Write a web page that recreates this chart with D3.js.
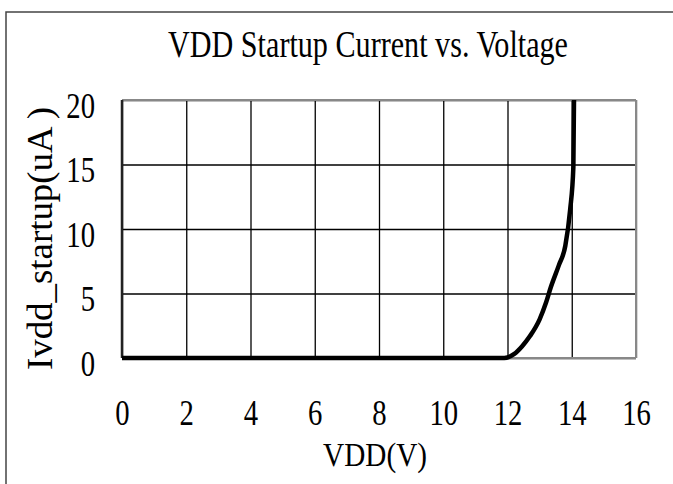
<!DOCTYPE html>
<html>
<head>
<meta charset="utf-8">
<script src="https://cdn.jsdelivr.net/npm/d3@7"></script>
<style>
    body { margin: 0; background: #fff; }
    svg { display: block; }
    .tick text { font-family: "Liberation Serif", "Times New Roman", Times, serif; fill: #000; }
</style>
</head>
<body>
<div id="chart"></div>
<script>
// data
const vdd = [0, 2, 4, 6, 8, 10, 11.9, 12.2, 12.45, 12.7, 13.0, 13.2, 13.35, 13.6, 13.8, 13.95, 14.05, 14.07];
const istartup = [0, 0, 0, 0, 0, 0, 0, 0.3, 0.9, 1.7, 3.0, 4.3, 5.5, 7.2, 8.7, 11.5, 14.8, 20];
const xTicks = [0, 2, 4, 6, 8, 10, 12, 14, 16];
const yTicks = [0, 5, 10, 15, 20];

const W = 673, H = 484;
const margin = { top: 100, right: 37, bottom: 126, left: 122 };
const width = W - margin.left - margin.right,
    height = H - margin.top - margin.bottom;
const sx = 0.82; // squeezed look of the original font

const svg = d3.select("#chart").append("svg")
    .attr("width", W)
    .attr("height", H);

// outer frame
svg.append("rect")
    .attr("x", 6).attr("y", 12)
    .attr("width", 720).attr("height", 520)
    .attr("fill", "none")
    .attr("stroke", "#444")
    .attr("stroke-width", 1.5);

const g = svg.append("g")
    .attr("transform", "translate(" + margin.left + "," + margin.top + ")");

const x = d3.scaleLinear().domain([0, 16]).range([0, width]);
const y = d3.scaleLinear().domain([0, 20]).range([height, 0]);

// axes + grid
const xAxis = d3.axisBottom(x).tickValues(xTicks).tickSize(-height).tickFormat(d3.format("d"));
const yAxis = d3.axisLeft(y).tickValues(yTicks).tickSize(-width).tickFormat(d3.format("d"));

const gx = g.append("g")
    .attr("transform", "translate(0," + height + ")")
    .call(xAxis);
const gy = g.append("g").call(yAxis);

[gx, gy].forEach(a => {
    a.select(".domain").remove();
    a.selectAll(".tick line").attr("stroke", "#000").attr("stroke-width", 1.3);
    a.selectAll(".tick text").style("font-size", "35px");
});

gx.selectAll(".tick text")
    .attr("y", 67).attr("dy", 0)
    .attr("transform", "scale(" + sx + ",1)");
gy.selectAll(".tick text")
    .attr("x", -27 / sx).attr("y", 17).attr("dy", 0)
    .attr("transform", "scale(" + sx + ",1)");

// plot frame
g.append("line").attr("x1", 0).attr("x2", width).attr("y1", 0).attr("y2", 0)
    .attr("stroke", "#888").attr("stroke-width", 2);
g.append("line").attr("x1", width).attr("x2", width).attr("y1", 0).attr("y2", height)
    .attr("stroke", "#888").attr("stroke-width", 2);
g.append("line").attr("x1", 0).attr("x2", width).attr("y1", height).attr("y2", height)
    .attr("stroke", "#888").attr("stroke-width", 2);
g.append("line").attr("x1", 0).attr("x2", 0).attr("y1", 0).attr("y2", height)
    .attr("stroke", "#222").attr("stroke-width", 2.5);

// curve
const pts = vdd.map((v, i) => [v, istartup[i]]);
const line = d3.line()
    .x(d => x(d[0]))
    .y(d => y(d[1]))
    .curve(d3.curveMonotoneX);

g.append("clipPath").attr("id", "clip")
    .append("rect").attr("x", -5).attr("y", 0).attr("width", width + 10).attr("height", height + 5);

g.append("path")
    .datum(pts)
    .attr("clip-path", "url(#clip)")
    .attr("fill", "none")
    .attr("stroke", "#000")
    .attr("stroke-width", 4.5)
    .attr("stroke-linejoin", "round")
    .attr("d", line);

// titles
const serif = "'Liberation Serif', 'Times New Roman', Times, serif";

svg.append("text")
    .attr("x", 168).attr("y", 57)
    .attr("textLength", 400).attr("lengthAdjust", "spacingAndGlyphs")
    .style("font-family", serif).style("font-size", "37px")
    .text("VDD Startup Current vs. Voltage");

svg.append("text")
    .attr("x", 323).attr("y", 466)
    .attr("textLength", 104).attr("lengthAdjust", "spacingAndGlyphs")
    .style("font-family", serif).style("font-size", "34px")
    .text("VDD(V)");

svg.append("text")
    .attr("transform", "translate(52,370) rotate(-90)")
    .attr("textLength", 263).attr("lengthAdjust", "spacingAndGlyphs")
    .style("font-family", serif).style("font-size", "36px")
    .text("Ivdd_startup(uA )");
</script>
</body>
</html>
